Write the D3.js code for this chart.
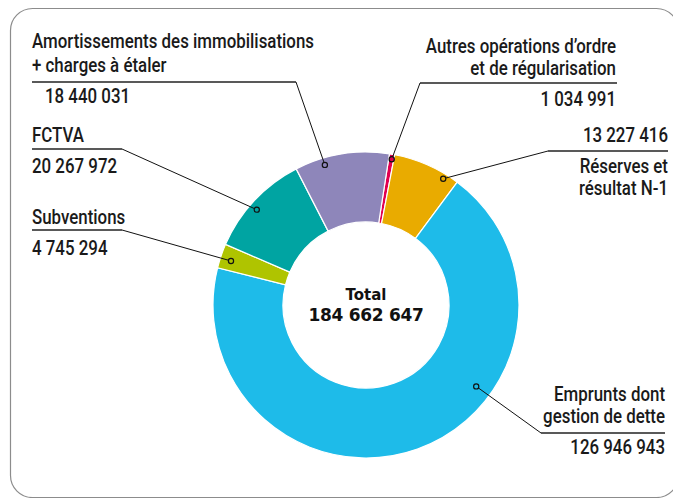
<!DOCTYPE html>
<html lang="fr">
<head>
    <meta charset="utf-8" />
    <title>Recettes d'investissement</title>
    <script src="https://cdnjs.cloudflare.com/ajax/libs/d3/7.8.5/d3.min.js"></script>
    <style>
        body { margin: 0; background: #fff; }
        .lbl { font-family: Roboto, "DejaVu Sans Condensed", sans-serif; font-weight: 500; font-size: 20px; fill: #1a1a1a; }
        .total { font-family: "DejaVu Sans", sans-serif; font-weight: bold; fill: #111; }
    </style>
</head>
<body>
<div id="chart"></div>
<script>
    // data
    const categories = ["Autres opérations d’ordre et de régularisation", "Réserves et résultat N-1",
        "Emprunts dont gestion de dette", "Subventions", "FCTVA",
        "Amortissements des immobilisations + charges à étaler"];
    const values = [1034991, 13227416, 126946943, 4745294, 20267972, 18440031];
    const nameLines = [
        ["Autres opérations d’ordre", "et de régularisation"],
        ["Réserves et", "résultat N-1"],
        ["Emprunts dont", "gestion de dette"],
        ["Subventions"],
        ["FCTVA"],
        ["Amortissements des immobilisations", "+ charges à étaler"]
    ];
    const colors = ["#e2004f", "#e9ab00", "#1ebbe9", "#afc400", "#00a4a2", "#8e86ba"];

    // label placement (layout only)
    const layout = [
        {anchor: "end", x: 616, lineY: 83, x1: 420, x2: 617, join: 420, nameY: [53, 75], valueY: 106, t: 0.6, r: 148},
        {anchor: "end", x: 668, lineY: 151, x1: 548, x2: 668, join: 548, nameY: [173, 195], valueY: 142, t: 0.8, r: 148},
        {anchor: "end", x: 665, lineY: 433, x1: 541, x2: 665, join: 541, nameY: [401, 423], valueY: 454, t: 0.363, r: 137},
        {anchor: "start", x: 32, lineY: 230, x1: 32, x2: 122, join: 122, nameY: [224], valueY: 255, t: 0.43, r: 142},
        {anchor: "start", x: 32, lineY: 149, x1: 32, x2: 122, join: 122, nameY: [142], valueY: 173, t: 0.45, r: 145},
        {anchor: "start", x: 32, lineY: 82, x1: 32, x2: 296, join: 296, nameY: [48, 72], valueY: 103, valueX: 45, t: 0.3, r: 146}
    ];

    const width = 673, height = 498;
    const cx = 366, cy = 305;
    const outerR = 153, innerR = 83;
    const longestWidth = 282; // width of the longest label line in the picture

    const fr = d3.formatLocale({decimal: ",", thousands: "\u00a0", grouping: [3], currency: ["", " €"]});
    const fmt = fr.format(",d");

    const svg = d3.select("#chart").append("svg")
        .attr("width", width)
        .attr("height", height);

    // frame
    svg.append("rect")
        .attr("x", 10.5).attr("y", 8.5)
        .attr("width", 668).attr("height", 489)
        .attr("rx", 22)
        .attr("fill", "none")
        .attr("stroke", "#8c8c8c")
        .attr("stroke-width", 1.2);

    const pie = d3.pie()
        .sort(null)
        .startAngle(8.8 * Math.PI / 180)
        .endAngle(8.8 * Math.PI / 180 + 2 * Math.PI);

    const arc = d3.arc().innerRadius(innerR).outerRadius(outerR);

    const arcs = pie(values);
    const g = svg.append("g").attr("transform", `translate(${cx},${cy})`);

    g.selectAll("path")
        .data(arcs)
        .enter()
        .append("path")
        .attr("d", arc)
        .attr("fill", (d, i) => colors[i])
        .attr("stroke", "white")
        .attr("stroke-width", 1.2);

    // squeeze the label font so it looks condensed
    const probe = svg.append("text").attr("class", "lbl").text(nameLines[5][0]);
    const squeeze = longestWidth / probe.node().getComputedTextLength();
    probe.remove();

    function label(x, y, anchor, txt) {
        svg.append("text")
            .attr("class", "lbl")
            .attr("transform", `translate(${x},${y}) scale(${squeeze},1)`)
            .attr("text-anchor", anchor)
            .text(txt);
    }

    // labels, underlines and leaders
    arcs.forEach((d, i) => {
        const L = layout[i];
        const a = d.startAngle + L.t * (d.endAngle - d.startAngle);
        const p = d3.pointRadial(a, L.r);
        const mx = cx + p[0], my = cy + p[1];

        svg.append("line")
            .attr("x1", L.x1).attr("x2", L.x2)
            .attr("y1", L.lineY).attr("y2", L.lineY)
            .attr("stroke", "#222").attr("stroke-width", 1.3);

        svg.append("line")
            .attr("x1", L.join).attr("y1", L.lineY)
            .attr("x2", mx).attr("y2", my)
            .attr("stroke", "#111").attr("stroke-width", 1);

        svg.append("circle")
            .attr("cx", mx).attr("cy", my).attr("r", 2.6)
            .attr("fill", colors[i])
            .attr("stroke", "#111").attr("stroke-width", 1.2);

        nameLines[i].forEach((t, k) => label(L.x, L.nameY[k], L.anchor, t));
        label(L.valueX || L.x, L.valueY, L.anchor, fmt(values[i]));
    });

    // total in the middle
    g.append("text")
        .attr("class", "total")
        .attr("text-anchor", "middle")
        .attr("y", -5)
        .style("font-size", "15px")
        .text("Total");

    g.append("text")
        .attr("class", "total")
        .attr("text-anchor", "middle")
        .attr("y", 16)
        .style("font-size", "17px")
        .style("letter-spacing", "-0.3px")
        .text(d3.format(",d")(d3.sum(values)).replace(/,/g, " "));
</script>
</body>
</html>
